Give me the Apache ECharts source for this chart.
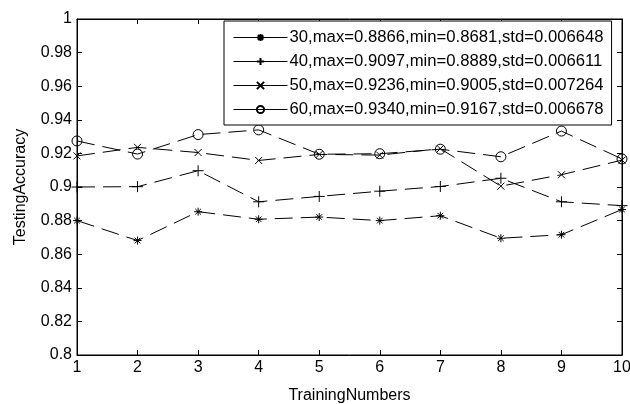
<!DOCTYPE html>
<html>
<head>
<meta charset="utf-8">
<script src="https://cdn.jsdelivr.net/npm/echarts@6/dist/echarts.min.js"></script>
<style>
  html, body { margin: 0; padding: 0; background: #fff; }
  #chart { width: 630px; height: 404px; }
</style>
</head>
<body>
<div id="chart"></div>
<script>
const trainingNumbers = [1, 2, 3, 4, 5, 6, 7, 8, 9, 10]
const acc30 = [0.8800, 0.8681, 0.8853, 0.8808, 0.8821, 0.8800, 0.8829, 0.8695, 0.8716, 0.8866]
const acc40 = [0.9000, 0.9002, 0.9097, 0.8912, 0.8944, 0.8975, 0.9003, 0.9052, 0.8912, 0.8889]
const acc50 = [0.9185, 0.9236, 0.9205, 0.9158, 0.9194, 0.9190, 0.9228, 0.9005, 0.9073, 0.9160]
const acc60 = [0.9274, 0.9196, 0.9312, 0.9340, 0.9195, 0.9198, 0.9225, 0.9180, 0.9333, 0.9167]
const seriesNames = [
  '30,max=0.8866,min=0.8681,std=0.006648',
  '40,max=0.9097,min=0.8889,std=0.006611',
  '50,max=0.9236,min=0.9005,std=0.007264',
  '60,max=0.9340,min=0.9167,std=0.006678'
]

const chart = echarts.init(document.getElementById('chart'))

// marker shapes like matlab '*', '+', 'x', 'o'
const markers = [
  { symbol: 'path://M5,0L5,10M0,5L10,5M1.5,1.5L8.5,8.5M8.5,1.5L1.5,8.5', size: 8 },
  { symbol: 'path://M5,0L5,10M0,5L10,5', size: 11 },
  { symbol: 'path://M0,0L10,10M10,0L0,10', size: 7 },
  { symbol: 'circle', size: 10 }
]

function makePairs (ys) {
  return trainingNumbers.map((x, i) => [x, ys[i]])
}

const font = 'Liberation Sans, Arial, sans-serif'

const option = {
  backgroundColor: '#fff',
  animation: false,
  grid: {
    left: 77,
    right: 8,
    top: 19,
    bottom: 49,
    outerBoundsMode: 'none',
    show: true,
    borderColor: '#000',
    borderWidth: 1,
    backgroundColor: '#fff'
  },
  legend: {
    orient: 'vertical',
    left: 224,
    top: 21,
    itemWidth: 54,
    itemHeight: 9,
    itemGap: 7,
    padding: [8, 8, 7, 9],
    borderColor: '#000',
    borderWidth: 1,
    backgroundColor: '#fff',
    textStyle: { fontFamily: font, fontSize: 16.7, color: '#000', padding: [0, 0, 0, -3] },
    lineStyle: { type: 'solid', color: '#000', width: 1 },
    data: seriesNames
  },
  xAxis: [
    {
      type: 'value',
      min: 1,
      max: 10,
      interval: 1,
      name: 'TrainingNumbers',
      nameLocation: 'middle',
      nameGap: 33,
      nameTextStyle: { fontFamily: font, fontSize: 16, color: '#000' },
      axisLine: { show: true, lineStyle: { color: '#000' } },
      axisTick: { inside: true, length: 5, lineStyle: { color: '#000' } },
      axisLabel: { fontFamily: font, fontSize: 16, color: '#000', margin: 5 },
      splitLine: { show: false }
    },
    {
      type: 'value',
      position: 'top',
      min: 1,
      max: 10,
      interval: 1,
      axisLine: { show: true, lineStyle: { color: '#000' } },
      axisTick: { inside: true, length: 5, lineStyle: { color: '#000' } },
      axisLabel: { show: false },
      splitLine: { show: false }
    }
  ],
  yAxis: [
    {
      type: 'value',
      min: 0.8,
      max: 1,
      interval: 0.02,
      name: 'TestingAccuracy',
      nameLocation: 'middle',
      nameGap: 48,
      nameTextStyle: { fontFamily: font, fontSize: 16, color: '#000' },
      axisLine: { show: true, lineStyle: { color: '#000' } },
      axisTick: { inside: true, length: 5, lineStyle: { color: '#000' } },
      axisLabel: { fontFamily: font, fontSize: 16, color: '#000', margin: 5 },
      splitLine: { show: false }
    },
    {
      type: 'value',
      position: 'right',
      min: 0.8,
      max: 1,
      interval: 0.02,
      axisLine: { show: true, lineStyle: { color: '#000' } },
      axisTick: { inside: true, length: 5, lineStyle: { color: '#000' } },
      axisLabel: { show: false },
      splitLine: { show: false }
    }
  ],
  series: [acc30, acc40, acc50, acc60].map((ys, i) => ({
    name: seriesNames[i],
    type: 'line',
    data: makePairs(ys),
    symbol: markers[i].symbol,
    symbolSize: markers[i].size,
    showAllSymbol: true,
    lineStyle: { color: '#000', width: 1, type: [18, 8] },
    itemStyle: { color: 'rgba(0,0,0,0)', borderColor: '#000', borderWidth: 1 },
    emphasis: { disabled: true }
  }))
}

chart.setOption(option)
window.addEventListener('resize', () => {
  chart.resize()
})
</script>
</body>
</html>
